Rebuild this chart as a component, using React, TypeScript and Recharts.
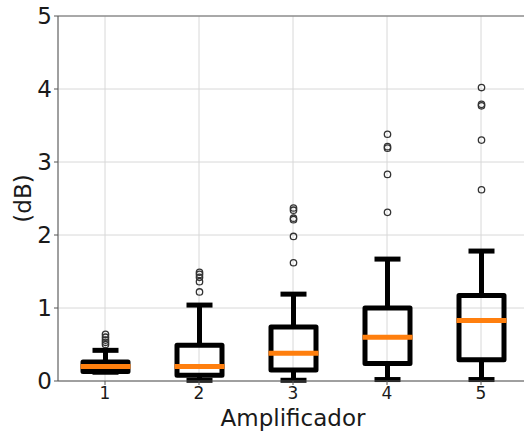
import { ComposedChart, Bar, XAxis, YAxis, CartesianGrid, ReferenceLine } from "recharts";

const categories = ["1", "2", "3", "4", "5"];
const whiskerLow = [0.12, 0.01, 0.01, 0.02, 0.02];
const q1 = [0.13, 0.08, 0.15, 0.24, 0.29];
const medians = [0.2, 0.2, 0.38, 0.6, 0.83];
const q3 = [0.26, 0.49, 0.74, 1.0, 1.17];
const whiskerHigh = [0.42, 1.04, 1.19, 1.67, 1.78];
const outliers = [
  [0.5, 0.53, 0.56, 0.6, 0.64],
  [1.22, 1.36, 1.42, 1.46, 1.49],
  [1.62, 1.98, 2.21, 2.23, 2.34, 2.37],
  [2.31, 2.83, 3.19, 3.21, 3.38],
  [2.62, 3.3, 3.77, 3.79, 4.02],
];
const yTicks = [0, 1, 2, 3, 4, 5];

const data = categories.map((name, i) => ({
  name,
  lo: whiskerLow[i],
  q1: q1[i],
  med: medians[i],
  q3: q3[i],
  hi: whiskerHigh[i],
  out: outliers[i],
  range: [whiskerLow[i], whiskerHigh[i]],
}));

const FONT = "DejaVu Sans";

// the bar spans lo..hi, so its pixel height gives the y scale for the other stats
function BoxShape(props: any) {
  const { x, y, width, height, payload } = props;
  const ppu = height / (payload.hi - payload.lo);
  const py = (v: number) => y + (payload.hi - v) * ppu;
  const cx = x + width / 2;
  const cap = 13;
  return (
    <g>
      <line x1={cx} x2={cx} y1={py(payload.hi)} y2={py(payload.q3)} stroke="#000" strokeWidth={5} />
      <line x1={cx} x2={cx} y1={py(payload.q1)} y2={py(payload.lo)} stroke="#000" strokeWidth={5} />
      <line x1={cx - cap} x2={cx + cap} y1={py(payload.hi)} y2={py(payload.hi)} stroke="#000" strokeWidth={5} />
      <line x1={cx - cap} x2={cx + cap} y1={py(payload.lo)} y2={py(payload.lo)} stroke="#000" strokeWidth={5} />
      <rect
        x={x}
        y={py(payload.q3)}
        width={width}
        height={py(payload.q1) - py(payload.q3)}
        fill="none"
        stroke="#000"
        strokeWidth={5}
        strokeLinejoin="round"
      />
      <line
        x1={x}
        x2={x + width}
        y1={py(payload.med)}
        y2={py(payload.med)}
        stroke="#ff7f0e"
        strokeWidth={5}
        strokeLinecap="square"
      />
      {payload.out.map((v: number, k: number) => (
        <circle key={k} cx={cx} cy={py(v)} r={3.2} fill="none" stroke="#333" strokeWidth={1.3} />
      ))}
    </g>
  );
}

export default function App() {
  return (
    <div
      style={{
        position: "absolute",
        left: 0,
        top: 0,
        width: 524,
        height: 436,
        overflow: "hidden",
        background: "#fff",
      }}
    >
      <ComposedChart width={540} height={436} data={data} margin={{ top: 16, right: 12, left: 0, bottom: 0 }}>
        <CartesianGrid stroke="#d8d8d8" strokeWidth={1} />
        <XAxis
          dataKey="name"
          height={55}
          stroke="#555"
          tickSize={4}
          tickMargin={2}
          tick={{ fontSize: 17, fill: "#1a1a1a", fontFamily: FONT }}
          label={{
            value: "Amplificador",
            position: "insideBottom",
            offset: 10,
            style: { fontSize: 23, fill: "#1a1a1a", fontFamily: FONT },
          }}
        />
        <YAxis
          type="number"
          domain={[0, 5]}
          ticks={yTicks}
          width={58}
          stroke="#555"
          tickSize={4}
          tickMargin={2}
          tick={{ fontSize: 23, fill: "#1a1a1a", fontFamily: FONT }}
          label={{
            value: "(dB)",
            angle: -90,
            position: "insideLeft",
            offset: 23,
            style: { fontSize: 23, fill: "#1a1a1a", fontFamily: FONT, textAnchor: "middle" },
          }}
        />
        <ReferenceLine y={5} stroke="#666" strokeWidth={1.2} />
        <Bar dataKey="range" barSize={45} shape={BoxShape} isAnimationActive={false} />
      </ComposedChart>
    </div>
  );
}
